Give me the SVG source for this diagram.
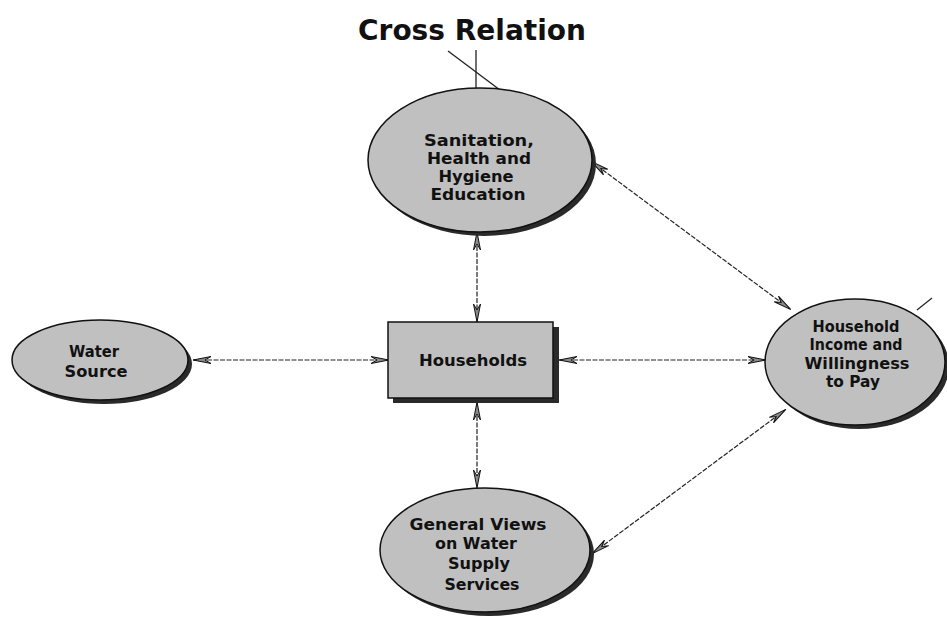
<svg xmlns="http://www.w3.org/2000/svg" width="947" height="632" viewBox="0 0 947 632">
<style>
.node{fill:#c0c0c0;stroke:#111;stroke-width:1.5}
.shadow{fill:#2a2a2a}
.lbl{font-family:"DejaVu Sans","Liberation Sans",sans-serif;font-weight:bold;font-size:15px;fill:#111;text-anchor:middle}
.title{font-family:"DejaVu Sans","Liberation Sans",sans-serif;font-weight:bold;font-size:29px;fill:#111;text-anchor:middle}
.conn{stroke:#222;stroke-width:1.2;fill:none;stroke-dasharray:5 1.5}
.plain{stroke:#222;stroke-width:1.3;fill:none}
</style>
<defs>
<marker id="arr" viewBox="0 0 18 10" refX="17" refY="5" markerWidth="18" markerHeight="10" markerUnits="userSpaceOnUse" orient="auto-start-reverse">
<path d="M0,1.5 L6,5 L0,8.5 L18,5 Z" fill="#8a8a8a" stroke="#111" stroke-width="1"/>
</marker>
</defs>
<rect width="947" height="632" fill="#fff"/>
<text class="title" x="472" y="40" textLength="228" lengthAdjust="spacingAndGlyphs">Cross Relation</text>
<g id="connectors">
<line class="plain" x1="476" y1="50" x2="476" y2="88"/>
<line class="plain" x1="448" y1="51" x2="500" y2="90"/>
<line class="plain" x1="932" y1="298" x2="917" y2="310"/>
<line class="conn" x1="194" y1="360" x2="388" y2="360" marker-start="url(#arr)" marker-end="url(#arr)"/>
<line class="conn" x1="560" y1="360" x2="765" y2="360" marker-start="url(#arr)" marker-end="url(#arr)"/>
<line class="conn" x1="477" y1="233" x2="477" y2="321" marker-start="url(#arr)" marker-end="url(#arr)"/>
<line class="conn" x1="477" y1="403" x2="477" y2="487" marker-start="url(#arr)" marker-end="url(#arr)"/>
<line class="conn" x1="592" y1="162" x2="790" y2="309" marker-start="url(#arr)" marker-end="url(#arr)"/>
<line class="conn" x1="785" y1="410" x2="593" y2="553" marker-start="url(#arr)" marker-end="url(#arr)"/>
</g>
<g id="sanitation">
<ellipse class="shadow" cx="484" cy="164" rx="112" ry="72"/>
<ellipse class="node" cx="480" cy="160" rx="112" ry="72"/>
<text class="lbl" x="479" y="146" textLength="110" lengthAdjust="spacingAndGlyphs">Sanitation,</text>
<text class="lbl" x="479" y="164" textLength="104" lengthAdjust="spacingAndGlyphs">Health and</text>
<text class="lbl" x="476" y="182" textLength="75" lengthAdjust="spacingAndGlyphs">Hygiene</text>
<text class="lbl" x="478" y="200" textLength="95" lengthAdjust="spacingAndGlyphs">Education</text>
</g>
<g id="water-source">
<ellipse class="shadow" cx="104" cy="364" rx="88" ry="40"/>
<ellipse class="node" cx="100" cy="360" rx="88" ry="40"/>
<text class="lbl" x="94" y="357" textLength="50" lengthAdjust="spacingAndGlyphs">Water</text>
<text class="lbl" x="96" y="377" textLength="63" lengthAdjust="spacingAndGlyphs">Source</text>
</g>
<g id="households">
<rect class="shadow" x="393" y="327" width="166" height="76"/>
<rect class="node" x="388" y="322" width="165" height="76"/>
<text class="lbl" x="473" y="366" textLength="108" lengthAdjust="spacingAndGlyphs">Households</text>
</g>
<g id="household-income">
<ellipse class="shadow" cx="859" cy="366" rx="90" ry="63"/>
<ellipse class="node" cx="855" cy="362" rx="90" ry="63"/>
<text class="lbl" x="856" y="332" textLength="87" lengthAdjust="spacingAndGlyphs">Household</text>
<text class="lbl" x="856" y="350" textLength="93" lengthAdjust="spacingAndGlyphs">Income and</text>
<text class="lbl" x="857" y="369" textLength="105" lengthAdjust="spacingAndGlyphs">Willingness</text>
<text class="lbl" x="853" y="387" textLength="54" lengthAdjust="spacingAndGlyphs">to Pay</text>
</g>
<g id="general-views">
<ellipse class="shadow" cx="489" cy="554" rx="105" ry="62"/>
<ellipse class="node" cx="485" cy="550" rx="105" ry="62"/>
<text class="lbl" x="478" y="530" textLength="137" lengthAdjust="spacingAndGlyphs">General Views</text>
<text class="lbl" x="476" y="549" textLength="82" lengthAdjust="spacingAndGlyphs">on Water</text>
<text class="lbl" x="479" y="569" textLength="62" lengthAdjust="spacingAndGlyphs">Supply</text>
<text class="lbl" x="482" y="590" textLength="75" lengthAdjust="spacingAndGlyphs">Services</text>
</g>
</svg>
